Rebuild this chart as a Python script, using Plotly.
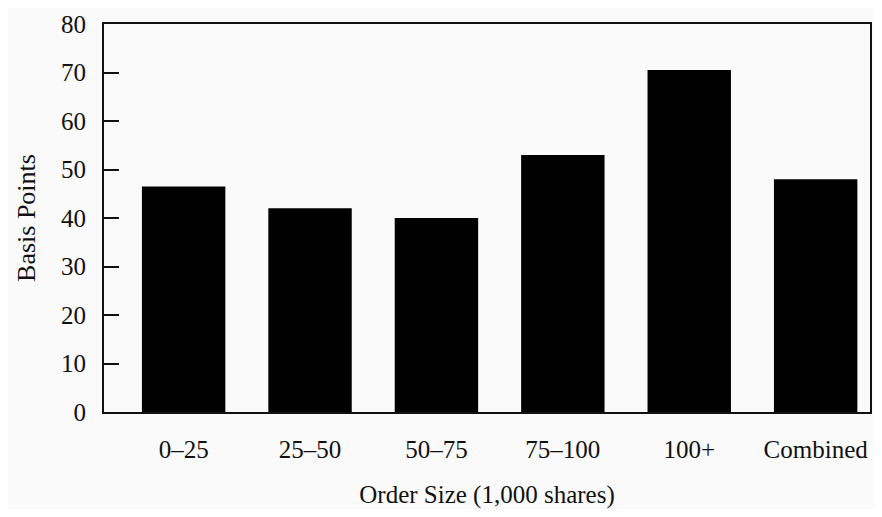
import plotly.graph_objects as go

# order size buckets (1,000 shares) and cost in basis points
categories = ["0\u201325", "25\u201350", "50\u201375", "75\u2013100", "100+", "Combined"]
basis_points = [46.5, 42, 40, 53, 70.5, 48]
y_ticks = [0, 10, 20, 30, 40, 50, 60, 70, 80]

serif = "Liberation Serif, DejaVu Serif, serif"

fig = go.Figure()

fig.add_trace(go.Bar(
    x=categories,
    y=basis_points,
    marker=dict(color="black", line=dict(width=0)),
    width=0.66,
    showlegend=False,
))

# page body keeps its default 8px margin, so the figure is a bit smaller than the window
fig.update_layout(
    width=874, height=501,
    margin=dict(l=96, r=12, t=16, b=97),
    paper_bgcolor="#fafafa",
    plot_bgcolor="#fafafa",
    font=dict(family=serif, size=26, color="#111"),
    xaxis=dict(
        range=[-0.63, 5.43],
        automargin=False,
        showline=True, linecolor="#111", linewidth=2, mirror=True,
        ticks="", ticklabelstandoff=14,
        tickfont=dict(size=25),
        title=dict(text="Order Size (1,000 shares)", font=dict(size=25), standoff=25),
        showgrid=False,
    ),
    yaxis=dict(
        range=[0, 80],
        automargin=False,
        tickvals=y_ticks,
        showline=True, linecolor="#111", linewidth=2, mirror=True,
        ticks="inside", ticklen=15, tickwidth=2, tickcolor="#111",
        ticklabelstandoff=11, ticklabeloverflow="allow",
        tickfont=dict(size=25),
        title=dict(text="Basis Points", font=dict(size=26), standoff=18),
        showgrid=False, zeroline=False,
    ),
)

fig.write_html("out.html")
